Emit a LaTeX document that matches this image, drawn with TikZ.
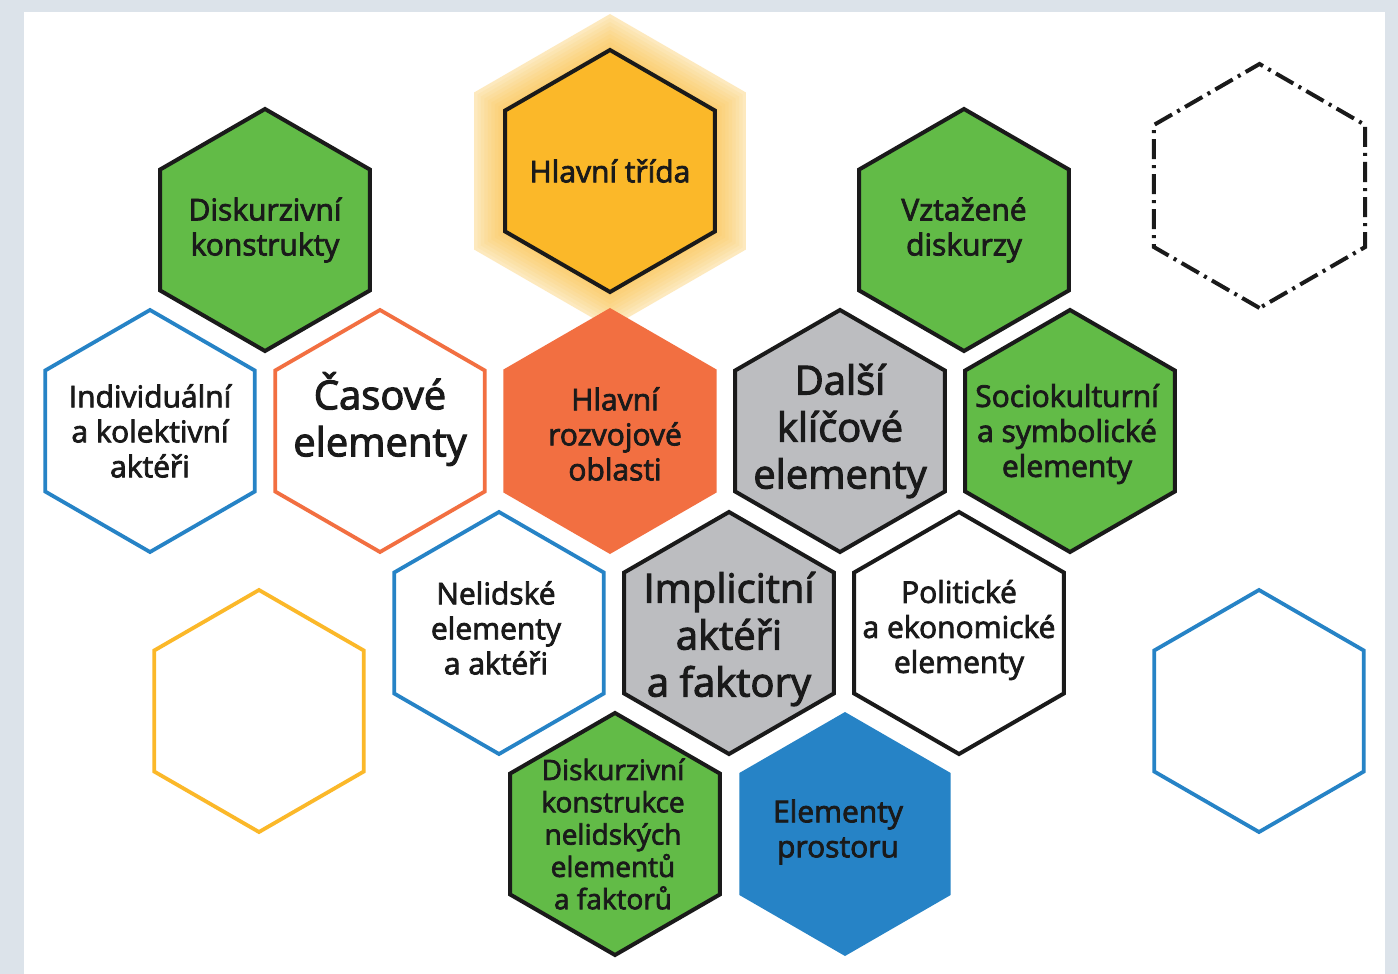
\documentclass[tikz,border=0pt]{standalone}
\usepackage{fontspec}
\newfontfamily\hexfont{Open Sans}[FakeBold=2.6]
\definecolor{framegray}{HTML}{DCE3EA}
\definecolor{hgreen}{HTML}{62BB47}
\definecolor{hyellow}{HTML}{FBB829}
\definecolor{horange}{HTML}{F26F41}
\definecolor{hblue}{HTML}{2683C6}
\definecolor{hgray}{HTML}{BCBDC0}
\definecolor{hblack}{HTML}{1A1A1A}
\tikzset{
  hexa/.pic={\path[pic actions] (90:#1) -- (150:#1) -- (210:#1) -- (270:#1) -- (330:#1) -- (30:#1) -- cycle;},
  blackhex/.style={draw=hblack, line width=4pt, line join=miter},
  colhex/.style={draw=#1, line width=3.8pt, line join=miter},
  txt/.style={align=center, inner sep=0pt, text=hblack, font=\hexfont\fontsize{30}{35}\selectfont},
  bigtxt/.style={align=center, inner sep=0pt, text=hblack, font=\hexfont\fontsize{40}{47}\selectfont},
}
\begin{document}
\begin{tikzpicture}[x=1pt, y=-1pt]
\useasboundingbox (0,0) rectangle (1398,974);
\fill[framegray] (0,0) rectangle (1398,974);
\fill[white] (24,12) rectangle (1385,974);
% glow
\pic[fill=hyellow, fill opacity=0.3] at (610,171) {hexa=157};
\foreach \r in {153,149,...,125}
  \pic[fill=hyellow, fill opacity=0.08] at (610,171) {hexa=\r};
% row 1
\pic[blackhex, fill=hgreen] at (265,230) {hexa=121};
\pic[blackhex, fill=hyellow] at (610,171) {hexa=121};
\pic[blackhex, fill=hgreen] at (964,230) {hexa=121};
\pic[draw=hblack, line width=4pt, line join=miter, dash pattern=on 20pt off 6pt on 3pt off 6pt] at (1259.5,186) {hexa=122};
% row 2
\pic[colhex=hblue, fill=white] at (150,431) {hexa=121};
\pic[colhex=horange, fill=white] at (380,431) {hexa=121};
\pic[fill=horange] at (610,431) {hexa=123};
\pic[blackhex, fill=hgray] at (840,431) {hexa=121};
\pic[blackhex, fill=hgreen] at (1070,431) {hexa=121};
% row 3
\pic[colhex=hyellow, fill=white] at (259,711) {hexa=121};
\pic[colhex=hblue, fill=white] at (499,633) {hexa=121};
\pic[blackhex, fill=hgray] at (729,633) {hexa=121};
\pic[blackhex, fill=white] at (959,633) {hexa=121};
\pic[colhex=hblue, fill=white] at (1259,711) {hexa=121};
% row 4
\pic[blackhex, fill=hgreen] at (615,834) {hexa=121};
\pic[fill=hblue] at (845,834) {hexa=122};
% texts
\node[txt] (dk) at (265,230) {Diskurzivní\\konstrukty};
\node[txt] (ht) at (610,171) {Hlavní třída};
\node[txt] (vd) at (964,230) {Vztažené\\diskurzy};
\node[txt] (ika) at (150,431) {Individuální\\a kolektivní\\aktéři};
\node[bigtxt] (ce) at (380,419) {Časové\\elementy};
\node[txt] (hro) at (615,434) {Hlavní\\rozvojové\\oblasti};
\node[bigtxt] (dke) at (840,431) {Další\\klíčové\\elementy};
\node[txt] (sse) at (1067,434) {Sociokulturní\\a symbolické\\elementy};
\node[txt] (nea) at (496,628) {Nelidské\\elementy\\a aktéři};
\node[bigtxt] (iaf) at (729,639) {Implicitní\\aktéři\\a faktory};
\node[txt] (pee) at (959,630) {Politické\\a ekonomické\\elementy};
\node[txt, font=\hexfont\fontsize{28}{32.3}\selectfont] (dkn) at (613,834) {Diskurzivní\\konstrukce\\nelidských\\elementů\\a faktorů};
\node[txt] (ep) at (838,832) {Elementy\\prostoru};
\end{tikzpicture}
\end{document}
